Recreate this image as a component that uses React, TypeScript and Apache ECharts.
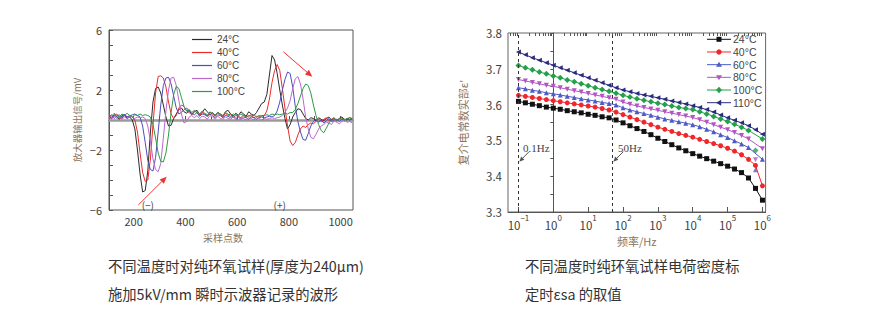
import React, { useEffect, useRef } from 'react';
import * as echarts from 'echarts';

// ---------- Left chart: oscilloscope waveforms ----------
const SAMPLE_POINTS = [
  105, 115, 125, 135, 145, 155, 165, 175, 185, 195,
  205, 215, 225, 235, 245, 255, 265, 275, 285, 295,
  305, 315, 325, 335, 345, 355, 365, 375, 385, 395,
  405, 415, 425, 435, 445, 455, 465, 475, 485, 495,
  505, 515, 525, 535, 545, 555, 565, 575, 585, 595,
  605, 615, 625, 635, 645, 655, 665, 675, 685, 695,
  705, 715, 725, 735, 745, 755, 765, 775, 785, 795,
  805, 815, 825, 835, 845, 855, 865, 875, 885, 895,
  905, 915, 925, 935, 945, 955, 965, 975, 985, 995,
  1005, 1015, 1025, 1035, 1045,
];

const WAVE_24 = [
  0.25, 0.1, 0.35, 0.2, 0.05, 0.3, 0.35, 0.1, 0.2, 0.0,
  -0.6, -2.0, -3.6, -4.8, -4.7, -3.4, -0.8, 1.2, 2.1, 2.2,
  1.8, 1.0, 0.2, -0.4, -0.35, 0.1, 0.4, 0.7, 0.8, 0.55,
  0.45, 0.65, 0.35, 0.55, 0.65, 0.35, 0.5, 0.75, 0.55, 0.35,
  0.5, 0.3, 0.5, 0.4, 0.25, 0.55, 0.65, 0.4, 0.25, 0.45,
  0.3, 0.55, 0.4, 0.25, 0.55, 0.4, 0.3, 0.5, 0.8, 1.1,
  1.2, 1.7, 3.0, 4.3, 4.0, 3.1, 2.0, 1.0, 0.1, -0.6,
  -0.3, 0.2, 0.5, 0.75, 0.7, 0.4, 0.1, 0.0, 0.15, 0.1,
  -0.05, 0.15, 0.05, -0.05, 0.1, 0.2, 0.0, 0.1, -0.05, 0.1,
  0.2, 0.05, 0.0, 0.15, 0.1,
];
const WAVE_40 = [
  0.3, 0.15, 0.3, 0.4, 0.15, 0.1, 0.35, 0.2, 0.3, 0.2,
  0.0, -0.8, -2.2, -3.5, -4.1, -4.0, -2.6, -0.3, 1.8, 2.9,
  2.95, 2.8, 2.2, 1.2, 0.4, 0.1, 0.3, 0.8, 1.0, 0.9,
  0.6, 0.5, 0.35, 0.6, 0.5, 0.3, 0.5, 0.4, 0.25, 0.55,
  0.4, 0.25, 0.5, 0.35, 0.2, 0.45, 0.3, 0.4, 0.15, 0.3,
  0.25, 0.15, 0.35, 0.2, 0.25, 0.35, 0.15, 0.25, 0.2, 0.3,
  0.3, 0.6, 1.4, 2.5, 3.3, 3.7, 3.3, 2.1, 0.8, -0.4,
  -1.4, -1.7, -1.5, -1.0, -0.6, -0.4, -0.5, -0.3, -0.2, -0.25,
  -0.1, 0.05, -0.1, 0.05, 0.15, -0.05, 0.05, 0.15, -0.05, 0.05,
  0.15, 0.0, 0.1, 0.0, 0.1,
];
const WAVE_60 = [
  0.2, 0.35, 0.1, 0.25, 0.35, 0.15, 0.4, 0.2, 0.25, 0.35,
  0.4, 0.3, 0.2, -0.4, -1.5, -2.7, -3.3, -3.4, -2.5, -0.8,
  1.0, 2.3, 2.8, 2.85, 2.4, 1.6, 0.8, 0.4, 0.5, 0.7,
  0.8, 0.6, 0.45, 0.35, 0.5, 0.25, 0.4, 0.35, 0.25, 0.4,
  0.3, 0.15, 0.35, 0.3, 0.15, 0.3, 0.25, 0.15, 0.3, 0.1,
  0.2, 0.05, 0.2, 0.15, 0.05, 0.2, 0.15, 0.05, 0.15, 0.2,
  0.15, 0.2, 0.25, 0.2, 0.3, 0.6, 1.2, 2.0, 2.7, 3.2,
  3.1, 2.2, 0.9, -0.1, -0.8, -1.3, -1.35, -0.9, -0.4, -0.1,
  0.05, -0.15, 0.0, -0.2, -0.05, 0.1, -0.1, 0.0, 0.05, -0.1,
  0.05, -0.05, 0.1, 0.0, 0.05,
];
const WAVE_80 = [
  0.2, 0.05, 0.25, 0.1, 0.2, 0.05, 0.2, 0.1, 0.25, 0.2,
  0.1, 0.2, 0.15, 0.2, 0.1, -0.4, -1.4, -2.6, -3.3, -3.45,
  -2.9, -1.2, 0.6, 2.0, 2.8, 2.85, 2.3, 1.3, 0.4, -0.2,
  -0.1, 0.2, 0.3, 0.15, 0.3, 0.1, 0.25, 0.2, 0.05, 0.3,
  0.2, 0.05, 0.25, 0.1, 0.05, 0.2, 0.1, 0.05, 0.2, 0.05,
  0.0, 0.15, 0.1, 0.0, 0.15, 0.1, 0.0, 0.15, 0.1, 0.0,
  0.1, 0.05, 0.1, 0.15, 0.1, 0.15, 0.2, 0.3, 0.5, 0.8,
  1.3, 2.1, 2.75, 2.9, 2.4, 1.4, 0.2, -0.6, -1.15, -1.25,
  -0.95, -0.6, -0.4, -0.3, -0.15, -0.2, -0.3, -0.05, -0.15, -0.25,
  -0.1, 0.0, -0.15, -0.1, -0.2,
];
const WAVE_100 = [
  0.35, 0.25, 0.45, 0.3, 0.2, 0.4, 0.3, 0.45, 0.3, 0.2,
  0.35, 0.3, 0.4, 0.3, 0.35, 0.3, 0.2, -0.3, -1.2, -2.2,
  -2.75, -2.8, -2.2, -1.0, 0.5, 1.7, 2.25, 2.1, 1.5, 0.9,
  0.6, 0.7, 0.5, 0.65, 0.5, 0.4, 0.6, 0.45, 0.35, 0.5,
  0.45, 0.3, 0.5, 0.4, 0.3, 0.5, 0.4, 0.25, 0.4, 0.35,
  0.3, 0.4, 0.3, 0.2, 0.3, 0.25, 0.35, 0.2, 0.3, 0.25,
  0.3, 0.35, 0.3, 0.4, 0.35, 0.4, 0.35, 0.4, 0.45, 0.4,
  0.5, 0.5, 0.7, 1.1, 1.6, 2.1, 2.4, 2.3, 1.8, 1.0,
  0.3, -0.3, -0.7, -0.85, -0.55, -0.2, 0.0, 0.15, -0.05, 0.1,
  0.15, 0.0, 0.1, 0.15, 0.05,
];
const WAVE_NAMES = ['24°C', '40°C', '60°C', '80°C', '100°C'];
const WAVE_COLORS = ['#2b2b2b', '#ee2a2a', '#4d4dbd', '#b86acb', '#2e9a45'];
const WAVE_X_TICKS = [200, 300, 400, 500, 600, 700, 800, 900, 1000];
const WAVE_X_LABELS = [200, 400, 600, 800, 1000];
const WAVE_Y_LABELS = [6, 2, -2, -6];

// ---------- Right chart: permittivity vs frequency ----------
const FREQ_HZ = [
  0.1, 0.158, 0.251, 0.398, 0.631,
  1, 1.58, 2.51, 3.98, 6.31,
  10, 15.8, 25.1, 39.8, 63.1,
  100, 158, 251, 398, 631,
  1000, 1580, 2510, 3980, 6310,
  1e4, 1.58e4, 2.51e4, 3.98e4, 6.31e4,
  1e5, 1.58e5, 2.51e5, 3.98e5, 6.31e5,
  1e6,
];
const EPS_24 = [
  3.609, 3.605, 3.601, 3.597, 3.593, 3.590, 3.587, 3.583, 3.580, 3.577,
  3.573, 3.570, 3.566, 3.563, 3.557, 3.549, 3.541, 3.533, 3.525, 3.516,
  3.506, 3.497, 3.488, 3.479, 3.471, 3.463, 3.456, 3.449, 3.442, 3.435,
  3.428, 3.420, 3.410, 3.395, 3.366, 3.333,
];
const EPS_40 = [
  3.626, 3.623, 3.620, 3.617, 3.614, 3.611, 3.608, 3.605, 3.602, 3.599,
  3.596, 3.593, 3.589, 3.585, 3.579, 3.572, 3.565, 3.558, 3.551, 3.544,
  3.537, 3.531, 3.525, 3.519, 3.514, 3.509, 3.503, 3.497, 3.491, 3.485,
  3.478, 3.470, 3.460, 3.447, 3.430, 3.373,
];
const EPS_60 = [
  3.647, 3.644, 3.640, 3.637, 3.633, 3.630, 3.627, 3.623, 3.620, 3.616,
  3.613, 3.610, 3.606, 3.603, 3.599, 3.591, 3.585, 3.580, 3.575, 3.570,
  3.565, 3.560, 3.556, 3.552, 3.548, 3.544, 3.538, 3.531, 3.524, 3.516,
  3.508, 3.499, 3.490, 3.480, null, 3.447,
];
const EPS_80 = [
  3.670, 3.666, 3.662, 3.658, 3.654, 3.651, 3.647, 3.643, 3.639, 3.635,
  3.631, 3.627, 3.623, 3.619, 3.615, 3.607, 3.601, 3.596, 3.592, 3.588,
  3.584, 3.580, 3.576, 3.572, 3.568, 3.564, 3.558, 3.551, 3.544, 3.537,
  3.530, 3.522, 3.514, 3.504, null, 3.477,
];
const EPS_100 = [
  3.709, 3.703, 3.697, 3.691, 3.686, 3.680, 3.675, 3.669, 3.664, 3.658,
  3.653, 3.647, 3.642, 3.637, 3.632, 3.626, 3.621, 3.616, 3.612, 3.608,
  3.604, 3.600, 3.596, 3.592, 3.589, 3.586, 3.580, 3.574, 3.567, 3.560,
  3.553, 3.545, 3.537, 3.528, null, 3.504,
];
const EPS_110 = [
  3.747, 3.739, 3.731, 3.724, 3.717, 3.710, 3.703, 3.696, 3.689, 3.682,
  3.675, 3.668, 3.661, 3.654, 3.647, 3.641, 3.636, 3.631, 3.627, 3.623,
  3.619, 3.615, 3.610, 3.606, 3.602, 3.597, 3.592, 3.586, 3.579, 3.571,
  3.563, 3.556, 3.549, 3.541, 3.530, 3.517,
];
// stray points (not joined by the curve) at 6.31e5 Hz
const OUTLIER_FREQ_HZ = 6.31e5;
const OUTLIER_60 = 3.418;
const OUTLIER_80 = 3.446;
const OUTLIER_100 = 3.472;

const EPS_NAMES = ['24°C', '40°C', '60°C', '80°C', '100°C', '110°C'];
const EPS_COLORS = ['#111111', '#f0262b', '#4f5bc4', '#b455c6', '#24a04a', '#2b2b7e'];
const EPS_SYMBOLS = ['rect', 'circle', 'triangle', 'triangle', 'diamond', 'triangle'];
const EPS_ROTATE = [0, 0, 0, 180, 0, 90];
const FREQ_DECADES = [-1, 0, 1, 2, 3, 4, 5, 6];
const MARK_FREQ_HZ = [0.1, 50];

const CAPTION_LEFT = ['不同温度时对纯环氧试样(厚度为240μm)', '施加5kV/mm 瞬时示波器记录的波形'];
const CAPTION_RIGHT = ['不同温度时纯环氧试样电荷密度标', '定时εsa 的取值'];

const SANS = '"Noto Sans CJK SC", "Noto Sans", sans-serif';
const LATIN = '"Liberation Sans", "DejaVu Sans", sans-serif';
const SERIF = '"Liberation Serif", "DejaVu Serif", serif';
const TICK_COLOR = '#3d3d3d';
const NAME_COLOR = '#8a7460';

function arrow(x1: number, y1: number, x2: number, y2: number, color: string, len = 6, half = 2.6) {
  const dx = x2 - x1;
  const dy = y2 - y1;
  const d = Math.sqrt(dx * dx + dy * dy);
  const ux = dx / d;
  const uy = dy / d;
  const bx = x2 - ux * len;
  const by = y2 - uy * len;
  return [
    { type: 'line', shape: { x1, y1, x2: bx, y2: by }, style: { stroke: color, lineWidth: 1 }, silent: true },
    {
      type: 'polygon',
      shape: { points: [[x2, y2], [bx - uy * half, by + ux * half], [bx + uy * half, by - ux * half]] },
      style: { fill: color },
      silent: true,
    },
  ];
}

// legend marker shapes for the right chart (drawn as graphic elements)
function legendMarker(kind: number, cx: number, cy: number, color: string): any {
  const style = { fill: color };
  switch (kind) {
    case 0:
      return { type: 'rect', shape: { x: cx - 2.5, y: cy - 2.5, width: 5, height: 5 }, style, silent: true };
    case 1:
      return { type: 'circle', shape: { cx, cy, r: 2.7 }, style, silent: true };
    case 2:
      return { type: 'polygon', shape: { points: [[cx, cy - 3], [cx - 3, cy + 2.2], [cx + 3, cy + 2.2]] }, style, silent: true };
    case 3:
      return { type: 'polygon', shape: { points: [[cx, cy + 3], [cx - 3, cy - 2.2], [cx + 3, cy - 2.2]] }, style, silent: true };
    case 4:
      return { type: 'polygon', shape: { points: [[cx, cy - 3.2], [cx + 3, cy], [cx, cy + 3.2], [cx - 3, cy]] }, style, silent: true };
    default:
      return { type: 'polygon', shape: { points: [[cx - 3, cy], [cx + 2.2, cy - 3], [cx + 2.2, cy + 3]] }, style, silent: true };
  }
}

export default function App() {
  const ref = useRef<HTMLDivElement>(null);

  useEffect(() => {
    if (!ref.current) return;
    const chart = echarts.init(ref.current, undefined, { renderer: 'svg' });

    const waves = [WAVE_24, WAVE_40, WAVE_60, WAVE_80, WAVE_100];
    const eps = [EPS_24, EPS_40, EPS_60, EPS_80, EPS_100, EPS_110];
    const minorTicks: number[] = [];
    for (let n = -2; n <= 6; n++) {
      for (let k = 2; k <= 9; k++) {
        const v = Math.log10(k * Math.pow(10, n));
        if (v > -1.3 && v < 6.09) minorTicks.push(v);
      }
    }

    const waveSeries = waves.map((vals, i) => ({
      type: 'line',
      name: WAVE_NAMES[i],
      xAxisIndex: 0,
      yAxisIndex: 0,
      data: SAMPLE_POINTS.map((x, j) => [x, vals[j]]),
      symbol: 'none',
      lineStyle: { color: WAVE_COLORS[i], width: 1 },
      itemStyle: { color: WAVE_COLORS[i] },
      z: 3,
      ...(i === 0
        ? {
            markLine: {
              silent: true,
              symbol: 'none',
              label: { show: false },
              lineStyle: { color: '#9a9a9a', width: 2.5, type: 'solid' },
              data: [{ yAxis: 0 }],
              z: 1,
            },
          }
        : {}),
    }));

    const epsSeries = eps.map((vals, i) => ({
      type: 'line',
      name: 'eps-' + EPS_NAMES[i],
      xAxisIndex: 1,
      yAxisIndex: 1,
      data: FREQ_HZ.map((f, j) => [Math.log10(f), vals[j]]),
      connectNulls: true,
      symbol: EPS_SYMBOLS[i],
      symbolRotate: EPS_ROTATE[i],
      symbolSize: i === 4 ? 6 : 5,
      lineStyle: { color: EPS_COLORS[i], width: 1 },
      itemStyle: { color: EPS_COLORS[i] },
      ...(i === 5
        ? {
            markLine: {
              silent: true,
              symbol: 'none',
              label: { show: false },
              lineStyle: { color: '#333', width: 1, type: [3, 3] },
              data: MARK_FREQ_HZ.map((f) => ({ xAxis: Math.log10(f) })),
            },
          }
        : {}),
    }));

    const outliers = [
      { v: OUTLIER_60, i: 2 },
      { v: OUTLIER_80, i: 3 },
      { v: OUTLIER_100, i: 4 },
    ].map(({ v, i }) => ({
      type: 'scatter',
      name: 'stray-' + EPS_NAMES[i],
      xAxisIndex: 1,
      yAxisIndex: 1,
      data: [[Math.log10(OUTLIER_FREQ_HZ), v]],
      symbol: EPS_SYMBOLS[i],
      symbolRotate: EPS_ROTATE[i],
      symbolSize: i === 4 ? 6 : 5,
      itemStyle: { color: EPS_COLORS[i] },
    }));

    const rightLegend: any[] = [];
    EPS_NAMES.forEach((n, i) => {
      const y = 39.3 + i * 12.68;
      rightLegend.push({ type: 'line', shape: { x1: 707, y1: y, x2: 731, y2: y }, style: { stroke: EPS_COLORS[i], lineWidth: 1 }, silent: true });
      rightLegend.push(legendMarker(i, 719, y, EPS_COLORS[i]));
      rightLegend.push({
        type: 'text', x: 733, y,
        style: { text: n, fontSize: 10.5, fill: '#444', fontFamily: LATIN, align: 'left', verticalAlign: 'middle' },
        silent: true,
      });
    });

    const graphics: any[] = [
      ...arrow(138.3, 205, 166.7, 176.7, '#ee3333', 7, 3),
      ...arrow(283.3, 51.7, 312.3, 76.7, '#ee3333', 7, 3),
      ...arrow(529, 151.7, 519.3, 161.7, '#555', 5, 2.2),
      ...arrow(623.3, 151.7, 613.3, 161.7, '#555', 5, 2.2),
      ...rightLegend,
      { type: 'text', x: 147.8, y: 204, style: { text: '(−)', fontSize: 10, fill: '#444', fontFamily: SANS, align: 'center', verticalAlign: 'middle' } },
      { type: 'text', x: 279.7, y: 204, style: { text: '(+)', fontSize: 10, fill: '#444', fontFamily: SANS, align: 'center', verticalAlign: 'middle' } },
      { type: 'text', x: 523, y: 148, style: { text: '0.1Hz', fontSize: 11, fill: '#444', fontFamily: SERIF, align: 'left', verticalAlign: 'middle' } },
      { type: 'text', x: 618, y: 148, style: { text: '50Hz', fontSize: 11, fill: '#444', fontFamily: SERIF, align: 'left', verticalAlign: 'middle' } },
      ...CAPTION_LEFT.map((t, i) => ({
        type: 'text', x: 108, y: 265.5 + i * 28,
        style: { text: t, fontSize: 14.3, fill: '#333', fontFamily: SANS, align: 'left', verticalAlign: 'middle' },
      })),
      ...CAPTION_RIGHT.map((t, i) => ({
        type: 'text', x: 525, y: 265.5 + i * 28,
        style: { text: t, fontSize: 14.3, fill: '#333', fontFamily: SANS, align: 'left', verticalAlign: 'middle' },
      })),
    ];

    chart.setOption({
      animation: false,
      backgroundColor: '#ffffff',
      textStyle: { fontFamily: SANS },
      grid: [
        { left: 109, top: 30, width: 244, height: 180, show: true, borderColor: '#555', borderWidth: 1, backgroundColor: 'transparent' },
        { left: 508, top: 33, width: 257.6, height: 179, show: true, borderColor: '#666', borderWidth: 1, backgroundColor: 'transparent' },
      ],
      legend: [
        {
          data: WAVE_NAMES,
          orient: 'vertical',
          left: 192,
          top: 33,
          padding: 0,
          itemGap: 0,
          itemWidth: 20,
          itemHeight: 1.2,
          icon: 'rect',
          selectedMode: false,
          textStyle: { fontSize: 10, color: '#444', lineHeight: 13, fontFamily: LATIN },
        },
      ],
      xAxis: [
        {
          type: 'value',
          gridIndex: 0,
          min: 105,
          max: 1048,
          axisLine: { show: true, lineStyle: { color: '#555', width: 1 } },
          axisTick: { show: true, inside: true, length: 4, customValues: WAVE_X_TICKS, lineStyle: { color: '#555' } },
          axisLabel: { customValues: WAVE_X_LABELS, fontSize: 11, color: TICK_COLOR, margin: 5, formatter: (v: number) => String(v) },
          splitLine: { show: false },
          name: '采样点数',
          nameLocation: 'middle',
          nameGap: 22,
          nameTextStyle: { fontSize: 10, color: NAME_COLOR, padding: [0, 16, 0, 0] },
        },
        {
          type: 'value',
          gridIndex: 1,
          min: -1.3,
          max: 6.09,
          axisLine: { show: true, lineStyle: { color: '#555', width: 1 } },
          axisTick: { show: true, inside: true, length: 5, customValues: FREQ_DECADES, lineStyle: { color: '#555' } },
          axisLabel: {
            customValues: FREQ_DECADES,
            margin: 1,
            formatter: (v: number) => `{b|10}{s|${v < 0 ? '−' + Math.abs(v) : v}}`,
            rich: {
              b: { fontSize: 11.5, color: TICK_COLOR, lineHeight: 18, verticalAlign: 'bottom' },
              s: { fontSize: 8, color: TICK_COLOR, lineHeight: 9, verticalAlign: 'top' },
            },
          },
          splitLine: { show: false },
          name: '频率/Hz',
          nameLocation: 'middle',
          nameGap: 23,
          nameTextStyle: { fontSize: 11, color: NAME_COLOR },
        },
        {
          type: 'value',
          gridIndex: 1,
          min: -1.3,
          max: 6.09,
          axisLine: { show: false },
          axisTick: { show: true, inside: true, length: 3, customValues: minorTicks, lineStyle: { color: '#555' } },
          axisLabel: { show: false },
          splitLine: { show: false },
        },
      ],
      yAxis: [
        {
          type: 'value',
          gridIndex: 0,
          min: -6,
          max: 6,
          interval: 1,
          axisLine: { show: true, lineStyle: { color: '#555', width: 1 } },
          axisTick: { show: true, inside: true, length: 4, lineStyle: { color: '#555' } },
          axisLabel: {
            fontSize: 11,
            color: TICK_COLOR,
            margin: 7,
            formatter: (v: number) => (WAVE_Y_LABELS.includes(Math.round(v)) ? String(Math.round(v)).replace('-', '−') : ''),
          },
          splitLine: { show: false },
          name: '放大器输出信号/mV',
          nameLocation: 'middle',
          nameGap: 27,
          nameTextStyle: { fontSize: 9.5, color: NAME_COLOR },
        },
        {
          type: 'value',
          gridIndex: 1,
          min: 3.3,
          max: 3.8,
          interval: 0.05,
          axisLine: { show: true, lineStyle: { color: '#555', width: 1 } },
          axisTick: { show: true, inside: false, length: 3, lineStyle: { color: '#555' } },
          axisLabel: {
            fontSize: 11.5,
            color: TICK_COLOR,
            margin: 6,
            formatter: (v: number) => (Math.round(v * 20) % 2 === 0 ? v.toFixed(1) : ''),
          },
          splitLine: { show: false },
          name: "复介电常数实部ε'",
          nameLocation: 'middle',
          nameGap: 40,
          nameTextStyle: { fontSize: 11, color: NAME_COLOR },
        },
      ],
      series: [...waveSeries, ...epsSeries, ...outliers],
      graphic: graphics,
    });

    return () => chart.dispose();
  }, []);

  return (
    <div
      ref={ref}
      style={{ position: 'absolute', left: 0, top: 0, width: 876, height: 330, background: '#fff' }}
    />
  );
}
